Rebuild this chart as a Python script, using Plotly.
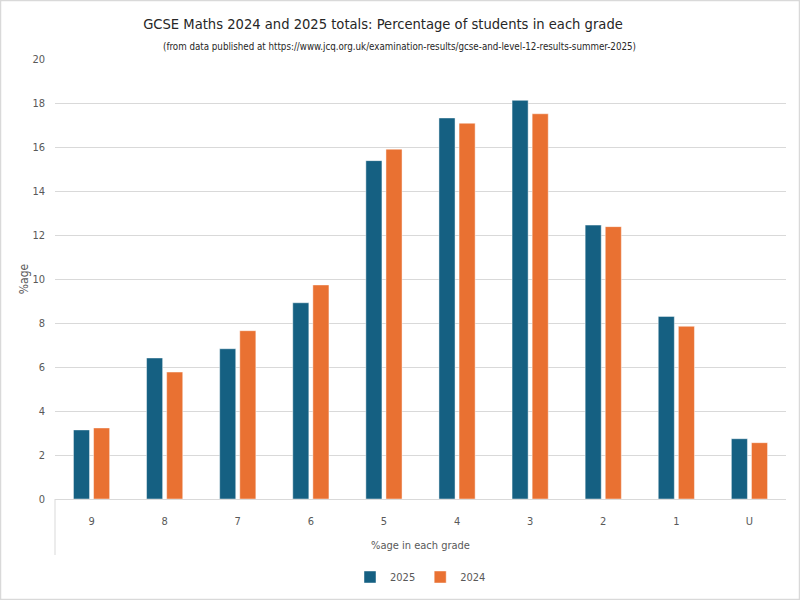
import plotly.graph_objects as go

# GCSE Maths grade distribution, 2025 vs 2024 (%)
grades = ["9", "8", "7", "6", "5", "4", "3", "2", "1", "U"]
pct_2025 = [3.14, 6.41, 6.83, 8.92, 15.38, 17.32, 18.12, 12.45, 8.30, 2.74]
pct_2024 = [3.23, 5.77, 7.65, 9.73, 15.90, 17.08, 17.51, 12.38, 7.85, 2.56]

FONT = "Liberation Sans Narrow, Arial Narrow, DejaVu Sans Condensed, Liberation Sans, sans-serif"
GREY = "#595959"

fig = go.Figure()
fig.add_bar(name="2025", x=grades, y=pct_2025,
            marker=dict(color="#156082", line=dict(color="rgba(255,255,255,0.45)", width=1)))
fig.add_bar(name="2024", x=grades, y=pct_2024,
            marker=dict(color="#E97132", line=dict(color="rgba(255,255,255,0.45)", width=1)))

# plot area is 731 x 440 px, from (55, 59) in the page
W, H = 731, 440
fig.update_layout(
    width=800, height=600,
    margin=dict(l=55, r=14, t=59, b=101, autoexpand=False),
    paper_bgcolor="white", plot_bgcolor="white",
    font=dict(family=FONT, size=11, color=GREY),
    barmode="group", bargap=0.45, bargroupgap=0.2,
    title=dict(text="GCSE Maths 2024 and 2025 totals: Percentage of students in each grade",
               x=383 / 800, xanchor="center", y=1 - 24 / 600, yanchor="middle",
               font=dict(family=FONT, size=14.6, color="#262626")),
    legend=dict(orientation="h", x=0.5, xanchor="center", y=(499 - 577) / H, yanchor="middle",
                font=dict(family=FONT, size=11, color=GREY), itemwidth=30, traceorder="normal"),
    showlegend=True,
)
fig.update_yaxes(range=[0, 20], dtick=2, showgrid=True, gridcolor="#d9d9d9", gridwidth=1,
                 zeroline=False, showline=False, ticks="", ticklabelstandoff=9,
                 automargin=False,
                 tickfont=dict(family=FONT, size=11, color=GREY),
                 title=dict(text="%age", standoff=1, font=dict(family=FONT, size=12, color=GREY)))
fig.update_xaxes(showline=True, linecolor="#d9d9d9", linewidth=1, ticks="",
                 ticklabelstandoff=12, automargin=False,
                 tickfont=dict(family=FONT, size=11, color=GREY))

fig.add_annotation(text="(from data published at https://www.jcq.org.uk/examination-results/gcse-and-level-12-results-summer-2025)",
                   xref="paper", yref="paper", x=(399 - 55) / W, y=(499 - 46) / H,
                   yanchor="middle", showarrow=False,
                   font=dict(family=FONT, size=9.7, color="#262626"))
fig.add_annotation(text="%age in each grade", xref="paper", yref="paper",
                   x=0.5, y=(499 - 545) / H, yanchor="middle", showarrow=False,
                   font=dict(family=FONT, size=11, color=GREY))

# vertical line at the left of the category axis and the chart border
fig.add_shape(type="line", xref="paper", yref="paper", x0=0, x1=0, y0=0, y1=-56 / H,
              line=dict(color="#d9d9d9", width=1))
fig.add_shape(type="rect", xref="paper", yref="paper",
              x0=-54.5 / W, x1=1 + 13.5 / W, y0=-100.5 / H, y1=1 + 58.5 / H,
              line=dict(color="#d9d9d9", width=1.5))

# drop the page's default body margin so the chart sits at the top-left corner
fig.write_html("out.html", config={"displayModeBar": False},
               post_script="document.body.style.margin='0';")
